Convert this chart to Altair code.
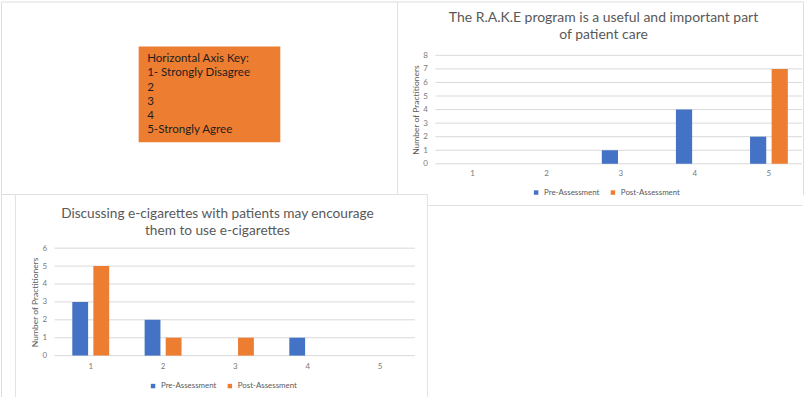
import altair as alt
import pandas as pd

# ---------------- data ----------------
categories = ["1", "2", "3", "4", "5"]
series = ["Pre-Assessment", "Post-Assessment"]

rake_pre = [0, 0, 1, 4, 2]
rake_post = [0, 0, 0, 0, 7]
rake_ticks = [0, 1, 2, 3, 4, 5, 6, 7, 8]
rake_title = ["The R.A.K.E program is a useful and important part", "of patient care"]

ecig_pre = [3, 2, 0, 1, 0]
ecig_post = [5, 1, 1, 0, 0]
ecig_ticks = [0, 1, 2, 3, 4, 5, 6]
ecig_title = ["Discussing e-cigarettes with patients may encourage", "them to use e-cigarettes"]

y_title = "Number of Practitioners"
key_lines = ["Horizontal Axis Key:", "1- Strongly Disagree", "2", "3", "4", "5-Strongly Agree"]

BLUE = "#4472C4"
ORANGE = "#ED7D31"
FONT = "Lato"
TXT = "#595959"
LBL = "#7a7a7a"
GRID = "#d9d9d9"
CARD = "#e2e2e2"


def long_df(pre, post):
    rows = []
    for c, a, b in zip(categories, pre, post):
        rows.append({"cat": c, "series": series[0], "n": a})
        rows.append({"cat": c, "series": series[1], "n": b})
    return pd.DataFrame(rows)


def one_row():
    return alt.Data(values=[{"k": 0}])


def hline(y, x1, x2):
    return alt.Chart(one_row()).mark_rule(color=CARD, strokeWidth=1).encode(
        y=alt.value(y), x=alt.value(x1), x2=alt.value(x2))


def vline(x, y1, y2):
    return alt.Chart(one_row()).mark_rule(color=CARD, strokeWidth=1).encode(
        x=alt.value(x), y=alt.value(y1), y2=alt.value(y2))


def card(df, title_lines, ticks, cell_w, cell_h, box, borders, xr, yr,
         title_x, title_y, title_size, leg_x, leg_y, xlab_pad, grid_end):
    y_scale = alt.Scale(domain=[ticks[0], ticks[-1]], range=[yr[0], yr[1]], nice=False)
    y_axis = alt.Axis(values=ticks, title=y_title, offset=-xr[0], domain=False,
                      ticks=False, tickSize=0, labelPadding=8, labelFontSize=8,
                      labelColor=LBL, labelFont=FONT, grid=False, zindex=2,
                      titleFont=FONT, titleFontSize=8.5,
                      titleFontWeight="normal", titleColor=TXT,
                      titleX=-19.8, titleY=(yr[0] + yr[1]) / 2,
                      titleBaseline="middle", titleAngle=270)

    bg = alt.Chart(one_row()).mark_rect(fill="white", strokeWidth=0).encode(
        x=alt.value(box[0]), x2=alt.value(box[2]),
        y=alt.value(box[1]), y2=alt.value(box[3]))

    grid = alt.Chart(pd.DataFrame({"v": ticks})).mark_rule(color=GRID, strokeWidth=1).encode(
        y=alt.Y("v:Q", scale=y_scale, axis=y_axis),
        x=alt.value(xr[0]), x2=alt.value(grid_end))

    bars = alt.Chart(df).mark_bar().encode(
        x=alt.X("cat:N", sort=categories,
                scale=alt.Scale(range=xr, paddingInner=0.49, paddingOuter=0.245),
                axis=alt.Axis(title=None, labelAngle=0, domain=False, ticks=False, grid=False,
                              offset=-(cell_h - yr[0]), labelPadding=xlab_pad,
                              labelFontSize=8, labelColor=LBL, labelFont=FONT, zindex=2)),
        xOffset=alt.XOffset("series:N", sort=series,
                            scale=alt.Scale(paddingInner=0.25)),
        y=alt.Y("n:Q", scale=y_scale, axis=y_axis),
        color=alt.Color("series:N", sort=series,
                        scale=alt.Scale(domain=series, range=[BLUE, ORANGE]),
                        legend=alt.Legend(orient="none", legendX=leg_x, legendY=leg_y,
                                          direction="horizontal", title=None,
                                          symbolType="square", symbolSize=20,
                                          symbolStrokeWidth=0, labelFontSize=7.9,
                                          labelFont=FONT, labelColor=TXT,
                                          labelOffset=4, columnPadding=9)),
    )

    ttl = alt.Chart(one_row()).mark_text(
        font=FONT, fontSize=title_size, color=TXT, align="center", baseline="alphabetic",
        lineHeight=17).encode(
        x=alt.value(title_x), y=alt.value(title_y), text=alt.value(title_lines))

    return alt.layer(bg, *borders, grid, bars, ttl).properties(width=cell_w, height=cell_h)


# key box
key_bg = alt.Chart(one_row()).mark_rect(fill=ORANGE, strokeWidth=0).encode(
    x=alt.value(138), x2=alt.value(280), y=alt.value(45), y2=alt.value(141))
key_txt = alt.Chart(one_row()).mark_text(
    font=FONT, fontSize=11.6, color="#1e1e1e", align="left", baseline="top",
    lineHeight=14.2).encode(
    x=alt.value(146.5), y=alt.value(52), text=alt.value(key_lines))
key = alt.layer(key_bg, key_txt).properties(width=397, height=193)

card1 = card(long_df(rake_pre, rake_post), rake_title, rake_ticks,
             cell_w=407, cell_h=193, box=(0, 0, 407, 205),
             borders=[hline(0.5, 0, 407), vline(0.5, 0, 205), hline(204.5, 0, 407)],
             xr=[38.5, 410], yr=[162.7, 54],
             title_x=207, title_y=20.5, title_size=14.0,
             leg_x=135.5, leg_y=187.5, xlab_pad=6, grid_end=406)

card2 = card(long_df(ecig_pre, ecig_post), ecig_title, ecig_ticks,
             cell_w=397, cell_h=204, box=(14, 0, 428, 204),
             borders=[hline(0.5, 14, 428), vline(14.5, 0, 204), vline(427.5, 0, 204)],
             xr=[53.7, 416.3], yr=[162, 54.3],
             title_x=217, title_y=24, title_size=13.7,
             leg_x=148.5, leg_y=188.5, xlab_pad=7, grid_end=415)

chart = alt.concat(key, card1, card2, columns=2, spacing=0, bounds="flush").resolve_scale(
    color="independent", x="independent", y="independent", xOffset="independent"
).resolve_legend(color="independent").properties(
    padding=0, background="white"
).configure_view(strokeWidth=0).configure(font=FONT)

chart.save("out.html", embed_options={"renderer": "svg", "actions": False})
